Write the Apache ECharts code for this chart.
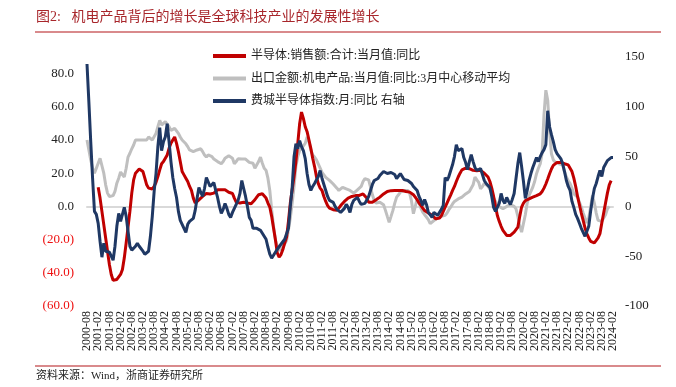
<!DOCTYPE html>
<html>
<head>
<meta charset="utf-8">
<script src="https://cdn.jsdelivr.net/npm/echarts@6/dist/echarts.min.js"></script>
<style>html,body{margin:0;padding:0;background:#fff;}#c{width:676px;height:387px;}</style>
</head>
<body>
<div id="c"></div>
<script>
// Months 2000-08 .. 2024-02 (283 monthly categories)
const startYear = 2000, startMonth = 8, monthCount = 283;
const categories = [];
for (let i = 0; i < monthCount; i++) {
  const t = (startMonth - 1) + i;
  const y = startYear + Math.floor(t / 12), m = (t % 12) + 1;
  categories.push(y + '-' + (m < 10 ? '0' + m : m));
}

const seriesNames = ['半导体:销售额:合计:当月值:同比', '出口金额:机电产品:当月值:同比:3月中心移动平均', '费城半导体指数:月:同比 右轴'];

// 半导体销售额同比 (left axis, %)
const semiSales = [
  null,null,null,null,null,null,11.6,5,-3,-11,-19,-27,
  -35,-41,-44.5,-44,-44,-43,-41,-38,-31,-22,-12.5,-3,
  8,16,20,21,22.5,23,21,17,13,11,10,10.5,
  12,14.5,18,22,25.7,27,28,31,35,38,40,41.8,
  38,33,27,21,19,17,15,12,9.6,5,2,3,
  4,5,6,7,7.8,7,7.5,7,8,9,10,10.8,
  10,10.5,10,9,8.5,8,7.8,5,2.6,3,2,3,
  2.5,2.6,2,2.6,1.6,2,4,5.6,7,7.6,7.6,7,
  5,2,-0.4,-6,-13,-20,-28,-30.5,-29,-26,-22,-18.5,
  -9,2,10,18,27,38,49.8,56.8,53,48,45,40,
  35,29,24,18,13.7,11,9.6,6,3,0.5,-1,-1.4,
  -2,-2.4,-2.4,-1,0.5,1.6,3,4,5,5.6,6,6,
  6.5,6.5,6.6,7,7.5,7.6,5,2.5,1.6,2.5,3,4,
  5,5.6,6.5,7.5,8.6,9,9,9.5,9.6,9.6,9.8,9.6,
  9.6,9.6,9.5,9,8.8,8.6,8,7,5.6,4,2,0.6,
  -1,-2.5,-3.4,-4,-5,-5.4,-6.5,-7.5,-8.4,-7,-5.5,-3,
  -0.5,2,4.5,7,9.6,12,15,17.7,20,22,22.7,23,
  22.7,22.7,22,21.7,21.7,21.5,21.7,21.7,21.5,20,19,17.7,
  15,11,6,0,-5.5,-9,-12,-14.5,-16,-17.5,-18,-17.5,
  -17,-15.5,-14,-12.5,-6,-0.4,2,3.5,4,4.5,5,5.6,
  6,6.5,7,7.6,9,11,13.5,16.5,19.7,22.5,24.7,25.5,
  26.5,26.7,26.5,26,25.7,25.5,25,24,21,17,12,6,
  1,-4,-8.4,-13,-16.5,-19,-21,-21.7,-22,-21,-19,-16.4,
  -10,-4,2,8,13,15.5,null
];

// 出口金额机电产品同比 3月中心移动平均 (left axis, %)
const exportMech = [
  40,34,28,23,20,23,26,29,28,20,13,8,
  6,6,6.5,9,14,17,20.7,20,17.7,23,29.7,32,
  34.7,37,40,41,40,41,40,39,40,41.8,41,40,
  41,44,48,51.8,49,48,51,50,48,45.8,46,47,
  46.8,44,41.8,40,41,37.7,36,34,33.7,33,33,34,
  34.5,34.7,33,31,29.7,31,31.5,30,28.5,27.7,27,26,
  25.7,27,29,29.7,30.5,31.7,29,25.7,27,28.7,28.7,28.5,
  28.7,28.5,27.7,26.5,26,26,23,22.7,27,29.7,26,23,
  21.7,17,9.6,-2,-12,-20,-24,-26.5,-25.5,-24.5,-22.5,-20.5,
  -14,-7,2,12,24,30,33.7,35,35.7,38,41.8,39,
  34,31,29.7,28,27,23,20.5,19,17.5,16.5,15.7,14.5,
  13.5,12.6,11,9.6,10.5,11.5,11.6,10.5,9.6,9.6,8.5,8,
  9,10,9.6,12,15,16.7,17.7,16,11.6,7,3.6,2,
  1.5,2.5,3.6,1,-2.4,-6,-9.5,-6,-2.4,2,5.6,7,
  8.6,9,9.6,9.6,9.6,8,3,-4.4,0,4.6,2.5,-1,
  -3.4,-5,-6.4,-8,-10.4,-10,-8.5,-7.5,-7,-6.4,-6,-5.8,
  -5.4,-4,-2,-0.4,1.5,3,3.6,4.5,5,5.6,6.5,7.5,
  8.6,9,9.6,13,17.7,16,14.5,10.6,12,14,13,12,
  10.5,7.6,5,3,1.6,0,-1,-1.4,-1,0,0.5,1,
  1.6,0,-1.5,-6,-12,-15.5,-16.4,-5,2,6.6,9,11.6,
  15,19.7,23,25.7,32,55,70,64,45,31.7,28,26.7,
  26,25.7,25.7,25,21,17.7,15.5,13.7,11,7.6,6.5,5.6,
  2.5,-0.4,-4,-7,-10,-7,-0.4,6.6,2,-4,-8.4,-9.4,
  -9,-7,-5,-1.4,0,null,null
];

// 费城半导体指数同比 (right axis, %)
const soxYoY = [
  143,105,65,28,-5,-8,-17,-35,-51,-37,-45,-47,
  -46,-48,-54,-40,-20,-7,-15,-8,-1,-10,-25,-40,
  -44,-42,-40,-37,-40,-42,-45,-48,-49,-45,-30,-10,
  15,33,60,79,56,65,70,83,65,45,29,18,
  9,-5,-14,-18,-20,-26,-18,-15,-17,-12,-4,8,
  19,14,10,18,29,27,20,22,24,16,9,0,
  -7,-3,3,-2,-8,-11,-6,-2,2,6,13,26,
  18,10,0,-11,-14,-22,-24,-22,-21,-24,-27,-30,
  -33,-41,-48,-52,-50,-46,-43,-41,-38,-36,-33,-31,
  -22,0,19,50,63,58,66,60,56,48,33,22,
  16,20,23,23,30,36,28,22,16,10,6,6,
  4,0,-3,-4,-6,-7,-2,2,-1,-6,2,6,
  8,9,5,2,2,3,2,10,16,22,26,26,
  28,31,33,35,36,33,32,34,35,32,28,30,
  33,30,27,25,26,24,23,20,18,16,10,6,
  1,7,2,-6,-8,-11,-6,-5,-9,-7,-3,1,
  29,26,30,36,42,50,62,56,54,58,49,44,
  37,45,52,45,39,36,36,38,32,26,23,21,
  19,10,-1,-5,-7,3,13,6,3,9,5,2,
  7,13,28,43,54,40,25,8,16,26,33,39,
  44,49,45,50,54,57,62,96,80,72,65,57,
  53,54,48,43,35,26,20,16,5,-1,-8,-12,
  -17,-22,-26,-30,-31,-20,-5,8,18,23,30,36,
  30,39,41,46,47,49,49
];

const leftTicks = { min: -60, max: 90, interval: 20 };
const rightTicks = { min: -100, max: 150, interval: 50 };
const labelEvery = 6; // one tick label each 6 months

const chart = echarts.init(document.getElementById('c'));
const serif = '"Liberation Serif", "Noto Sans CJK SC", serif';
const xLabelBase = { rotate: 90, margin: 5, fontSize: 12, fontFamily: serif, color: '#222', showMinLabel: true, showMaxLabel: true };
chart.setOption({
  animation: false,
  backgroundColor: '#fff',
  graphic: [
    { type: 'text', left: 36, top: 10, style: { text: '图2:   机电产品背后的增长是全球科技产业的发展性增长', fill: '#a8262b', font: '14px ' + serif } },
    { type: 'rect', shape: { x: 35, y: 31, width: 626, height: 2 }, style: { fill: '#d98a8c' } },
    { type: 'rect', shape: { x: 35, y: 365, width: 626, height: 2 }, style: { fill: '#d98a8c' } },
    { type: 'text', left: 36, top: 371, style: { text: '资料来源：Wind，浙商证券研究所', fill: '#222', font: '11px ' + serif } }
  ],
  legend: {
    orient: 'vertical', left: 208, top: 44,
    itemWidth: 33, itemHeight: 4, itemGap: 8.5, icon: 'rect',
    textStyle: { fontSize: 12, fontFamily: serif, color: '#222', lineHeight: 14 },
    data: seriesNames
  },
  grid: { left: 87, right: 63, top: 57, bottom: 81, containLabel: false },
  xAxis: [
    {
      type: 'category', data: categories, boundaryGap: false,
      axisLine: { show: false }, axisTick: { show: false },
      axisLabel: Object.assign({}, xLabelBase, { interval: function (i) { return i % (2 * labelEvery) === 0; } })
    },
    {
      type: 'category', data: categories, boundaryGap: false, position: 'bottom',
      axisLine: { show: true, onZero: true, onZeroAxisIndex: 0, lineStyle: { color: '#d9d9d9', width: 2 } },
      axisTick: { show: false }, axisLabel: { show: false }, splitLine: { show: false }
    },
    {
      type: 'category', data: categories, boundaryGap: false, position: 'bottom', offset: 0,
      axisLine: { show: false, onZero: false }, axisTick: { show: false }, splitLine: { show: false },
      axisLabel: Object.assign({}, xLabelBase, { interval: function (i) { return i % (2 * labelEvery) === labelEvery; } })
    }
  ],
  yAxis: [
    {
      type: 'value', min: leftTicks.min, max: leftTicks.max, interval: leftTicks.interval,
      splitLine: { show: false }, axisLine: { show: false }, axisTick: { show: false },
      axisLabel: {
        margin: 13, fontSize: 13, fontFamily: serif,
        formatter: function (v) { v = Number(v); if (v === 90) return ''; return v < 0 ? '(' + Math.abs(v).toFixed(1) + ')' : v.toFixed(1); },
        color: function (v) { return Number(v) < 0 ? '#ee1111' : '#222'; }
      }
    },
    {
      type: 'value', min: rightTicks.min, max: rightTicks.max, interval: rightTicks.interval,
      splitLine: { show: false }, axisLine: { show: false }, axisTick: { show: false },
      axisLabel: { margin: 12, fontSize: 13, fontFamily: serif, color: '#222' }
    }
  ],
  series: [
    { name: seriesNames[0], type: 'line', data: semiSales, yAxisIndex: 0, xAxisIndex: 0, showSymbol: false, symbol: 'none', z: 3,
      lineStyle: { color: '#c00000', width: 3 }, itemStyle: { color: '#c00000' } },
    { name: seriesNames[1], type: 'line', data: exportMech, yAxisIndex: 0, xAxisIndex: 0, showSymbol: false, symbol: 'none', z: 2,
      lineStyle: { color: '#bfbfbf', width: 3 }, itemStyle: { color: '#bfbfbf' } },
    { name: seriesNames[2], type: 'line', data: soxYoY, yAxisIndex: 1, xAxisIndex: 0, showSymbol: false, symbol: 'none', z: 4,
      lineStyle: { color: '#1f3864', width: 3 }, itemStyle: { color: '#1f3864' } }
  ]
});
</script>
</body>
</html>
